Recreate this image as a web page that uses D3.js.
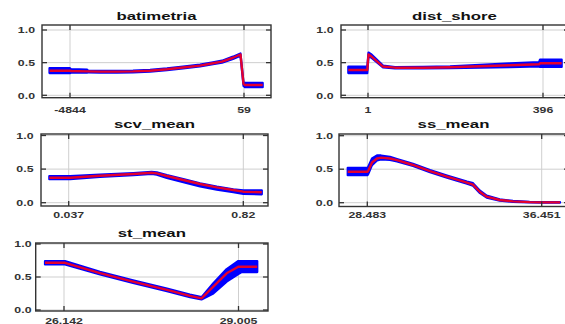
<!DOCTYPE html>
<html><head><meta charset="utf-8">
<script src="https://cdn.jsdelivr.net/npm/d3@7/dist/d3.min.js"></script>
<style>body{margin:0;background:#fff;overflow:hidden}</style>
</head><body><svg id="c" width="565" height="324"></svg>
<script>
// ---------- data ----------
const yTicks = [0, 0.5, 1];

const batX    = [-5422,-4844,-4816,-4365,-4337,-3999,-3520,-3069,-2590,-2111,-1660,-1181,-815,-561,-251,-40,45,87,586];
const batMean = [0.377,0.377,0.372,0.366,0.366,0.362,0.362,0.366,0.377,0.398,0.425,0.455,0.490,0.515,0.575,0.625,0.175,0.158,0.158];
const batLow  = [0.340,0.340,0.345,0.345,0.352,0.348,0.348,0.352,0.363,0.384,0.411,0.441,0.476,0.500,0.558,0.605,0.145,0.125,0.125];
const batHigh = [0.415,0.415,0.400,0.395,0.380,0.376,0.376,0.380,0.391,0.412,0.439,0.469,0.504,0.530,0.592,0.640,0.200,0.190,0.190];
const batTicks = [-4844, 59];
const batTickLabels = ["-4844", "59"];

const distX    = [-43.5,-0.6,2.1,7.8,34.9,61.9,125.1,186.1,253.8,321.5,387,389.2,438.2];
const distMean = [0.387,0.387,0.625,0.600,0.440,0.423,0.423,0.430,0.445,0.460,0.475,0.490,0.490];
const distLow  = [0.340,0.340,0.595,0.580,0.428,0.413,0.413,0.415,0.422,0.432,0.442,0.435,0.435];
const distHigh = [0.440,0.440,0.655,0.630,0.455,0.433,0.435,0.445,0.468,0.488,0.508,0.545,0.545];
const distTicks = [1, 396];
const distTickLabels = ["1", "396"];

const scvX    = [-0.050,0.043,0.177,0.327,0.409,0.432,0.477,0.551,0.626,0.701,0.775,0.820,0.903];
const scvMean = [0.372,0.372,0.402,0.427,0.446,0.437,0.397,0.338,0.278,0.229,0.189,0.164,0.155];
const scvLow  = [0.350,0.350,0.384,0.410,0.430,0.418,0.370,0.305,0.243,0.195,0.158,0.130,0.125];
const scvHigh = [0.395,0.395,0.418,0.442,0.460,0.452,0.410,0.350,0.290,0.240,0.200,0.185,0.185];
const scvTicks = [0.037, 0.82];
const scvTickLabels = ["0.037", "0.82"];

const ssX    = [27.588,28.483,28.515,28.698,28.926,29.109,29.520,29.840,30.571,31.348,32.124,33.038,33.312,33.632,33.938,34.532,35.140,35.900,36.451,37.287];
const ssMean = [0.463,0.463,0.470,0.600,0.660,0.672,0.660,0.635,0.563,0.470,0.390,0.300,0.270,0.160,0.090,0.040,0.020,0.008,0.005,0.005];
const ssLow  = [0.410,0.410,0.420,0.560,0.630,0.645,0.637,0.617,0.547,0.454,0.374,0.283,0.252,0.142,0.076,0.030,0.012,0.003,0.000,0.000];
const ssHigh = [0.520,0.520,0.530,0.660,0.705,0.705,0.684,0.653,0.579,0.486,0.405,0.315,0.292,0.180,0.105,0.050,0.028,0.013,0.010,0.010];
const ssTicks = [28.483, 36.451];
const ssTickLabels = ["28.483", "36.451"];

const stX    = [25.830,26.158,26.733,27.274,27.832,28.209,28.398,28.592,28.811,29.002,29.058,29.313];
const stMean = [0.715,0.715,0.560,0.430,0.305,0.215,0.177,0.353,0.556,0.656,0.656,0.656];
const stLow  = [0.690,0.690,0.540,0.410,0.285,0.195,0.160,0.250,0.430,0.545,0.575,0.575];
const stHigh = [0.740,0.740,0.580,0.450,0.325,0.235,0.195,0.404,0.620,0.742,0.742,0.742];
const stTicks = [26.142, 29.005];
const stTickLabels = ["26.142", "29.005"];

// ---------- layout ----------
const panels = [
  {title:"batimetria", x:batX, m:batMean, lo:batLow, hi:batHigh, ticks:batTicks, labels:batTickLabels,
   box:{l:42,r:271,t:25,b:97.7}, yr:[95.3,30], xr:[70,244], titleY:20, xlabY:113, ylabX:35},
  {title:"dist_shore", x:distX, m:distMean, lo:distLow, hi:distHigh, ticks:distTicks, labels:distTickLabels,
   box:{l:341,r:569,t:25,b:97.7}, yr:[95.3,30], xr:[368,543], titleY:20, xlabY:113, ylabX:333.5},
  {title:"scv_mean", x:scvX, m:scvMean, lo:scvLow, hi:scvHigh, ticks:scvTicks, labels:scvTickLabels,
   box:{l:41,r:268,t:134,b:206}, yr:[202.7,135.5], xr:[68.7,243.3], titleY:128, xlabY:217.5, ylabX:33.5},
  {title:"ss_mean", x:ssX, m:ssMean, lo:ssLow, hi:ssHigh, ticks:ssTicks, labels:ssTickLabels,
   box:{l:339,r:569,t:134,b:206.5}, yr:[202.7,135.7], xr:[367.3,541.7], titleY:128, xlabY:217.5, ylabX:333},
  {title:"st_mean", x:stX, m:stMean, lo:stLow, hi:stHigh, ticks:stTicks, labels:stTickLabels,
   box:{l:35.7,r:268,t:243,b:311}, yr:[310,244], xr:[64,238.5], titleY:237, xlabY:323.5, ylabX:31.5}
];

const svg = d3.select("#c");
const SX = 1.5;      // horizontal stretch of glyphs in the reference
const font = "'Liberation Sans', Arial, Helvetica, sans-serif";

function txt(g, x, y, s, opts) {
  g.append("text")
    .attr("transform", `translate(${x},${y}) scale(${opts.sx||SX},1)`)
    .attr("text-anchor", opts.anchor || "middle")
    .attr("dominant-baseline", opts.baseline || "auto")
    .attr("font-family", font)
    .attr("font-size", opts.size)
    .attr("font-weight", opts.weight || "normal")
    .attr("fill", opts.fill || "#222")
    .text(s);
}

panels.forEach((p, i) => {
  const g = svg.append("g");
  const B = p.box;
  const x = d3.scaleLinear().domain(p.ticks).range(p.xr);
  const y = d3.scaleLinear().domain([0, 1]).range(p.yr);
  const clipId = "clip" + i;
  g.append("clipPath").attr("id", clipId).append("rect")
    .attr("x", B.l).attr("y", B.t).attr("width", B.r - B.l).attr("height", B.b - B.t);

  // gridlines
  g.selectAll(".gy").data(yTicks).join("line")
    .attr("x1", B.l).attr("x2", B.r).attr("y1", d => y(d)).attr("y2", d => y(d))
    .attr("stroke", "#cfcfcf").attr("stroke-width", 1);
  g.selectAll(".gx").data(p.ticks).join("line")
    .attr("y1", B.t).attr("y2", B.b).attr("x1", d => x(d)).attr("x2", d => x(d))
    .attr("stroke", "#cfcfcf").attr("stroke-width", 1);

  const pts = p.x.map((v, k) => ({x: v, m: p.m[k], lo: p.lo[k], hi: p.hi[k]}));
  const area = d3.area().x(d => x(d.x)).y0(d => y(d.lo)).y1(d => y(d.hi));
  const line = d3.line().x(d => x(d.x)).y(d => y(d.m));
  const dg = g.append("g").attr("clip-path", `url(#${clipId})`);
  dg.append("path").attr("d", area(pts)).attr("fill", "#0000ff")
    .attr("stroke", "#0000ff").attr("stroke-width", 2.2).attr("stroke-linejoin", "round");
  dg.append("path").attr("d", line(pts)).attr("fill", "none")
    .attr("stroke", "#e3002f").attr("stroke-width", 2.4).attr("stroke-linejoin", "round");

  // frame
  g.append("rect").attr("x", B.l).attr("y", B.t).attr("width", B.r - B.l).attr("height", B.b - B.t)
    .attr("fill", "none").attr("stroke", "#333").attr("stroke-width", 1.4);
  // inner ticks
  const tl = 5;
  yTicks.forEach(v => {
    g.append("line").attr("x1", B.l).attr("x2", B.l + tl).attr("y1", y(v)).attr("y2", y(v)).attr("stroke", "#333").attr("stroke-width", 1.3);
    g.append("line").attr("x1", B.r - tl).attr("x2", B.r).attr("y1", y(v)).attr("y2", y(v)).attr("stroke", "#333").attr("stroke-width", 1.3);
  });
  p.ticks.forEach(v => {
    g.append("line").attr("x1", x(v)).attr("x2", x(v)).attr("y1", B.t).attr("y2", B.t + tl).attr("stroke", "#333").attr("stroke-width", 1.3);
    g.append("line").attr("x1", x(v)).attr("x2", x(v)).attr("y1", B.b - tl).attr("y2", B.b).attr("stroke", "#333").attr("stroke-width", 1.3);
  });

  // labels
  txt(g, (B.l + Math.min(B.r, 565 + 3)) / 2, p.titleY, p.title, {size: 10.5, weight: "bold", fill: "#111", sx: 1.6});
  yTicks.forEach(v => txt(g, p.ylabX, y(v), d3.format(".1f")(v), {size: 8.5, anchor: "end", baseline: "central", fill: "#333", weight: "bold", sx: 1.45}));
  p.ticks.forEach((v, k) => txt(g, x(v), p.xlabY, p.labels[k], {size: 8.5, fill: "#333", weight: "bold", sx: 1.45}));
});
</script>
</body></html>
